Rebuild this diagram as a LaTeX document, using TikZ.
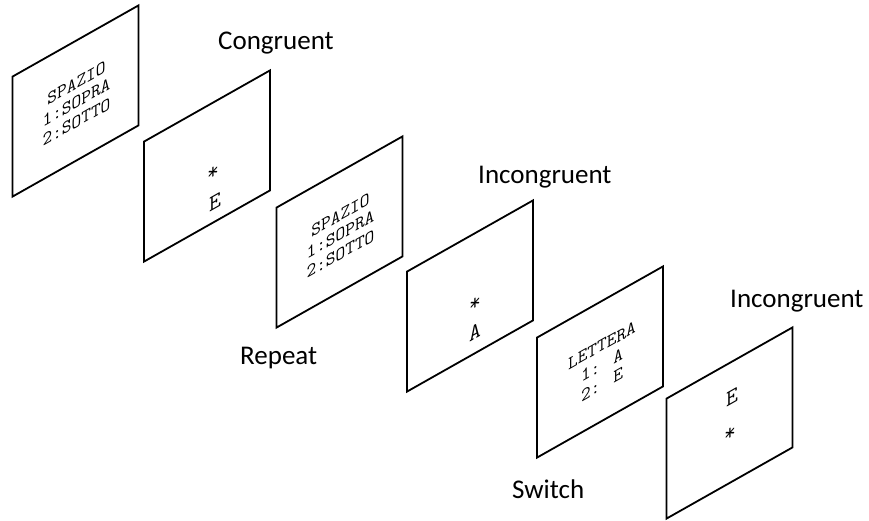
\documentclass[tikz,border=0pt]{standalone}
\usepackage{fontspec}
\setmainfont{Carlito}
\begin{document}
\begin{tikzpicture}[x=1pt,y=-1pt,
  panel/.style={draw, line width=1.8pt, minimum width=126pt, minimum height=120pt, inner sep=0pt, transform shape},
  cuetext/.style={font=\ttfamily\fontsize{18.8}{19.5}\selectfont, align=center, transform shape, inner sep=0pt},
  stim/.style={font=\ttfamily\fontsize{23}{26}\selectfont, transform shape, inner sep=0pt, anchor=base},
  lbl/.style={font=\fontsize{27}{32}\selectfont, anchor=base west, inner sep=0pt}]
\useasboundingbox (0,0) rectangle (869,520);

% panel 1: cue SPAZIO
\begin{scope}[shift={(75.5,101)}, yslant=0.565]
  \node[panel] (p1) at (0,0) {};
  \node[cuetext] (t1) at (1,2) {SPAZIO\\1:SOPRA\\2:SOTTO};
\end{scope}
% panel 2: congruent target
\begin{scope}[shift={(207,166)}, yslant=0.565]
  \node[panel] (p2) at (0,0) {};
  \node[stim] (s2) at (6,17) {*};
  \node[stim] (l2) at (8,47.5) {E};
\end{scope}
% panel 3: cue SPAZIO (repeat)
\begin{scope}[shift={(339.5,232)}, yslant=0.565]
  \node[panel] (p3) at (0,0) {};
  \node[cuetext] (t3) at (1,3) {SPAZIO\\1:SOPRA\\2:SOTTO};
\end{scope}
% panel 4: incongruent target
\begin{scope}[shift={(470,296)}, yslant=0.565]
  \node[panel] (p4) at (0,0) {};
  \node[stim] (s4) at (5,17.3) {*};
  \node[stim] (l4) at (5,46) {A};
\end{scope}
% panel 5: cue LETTERA (switch)
\begin{scope}[shift={(600,362)}, yslant=0.565]
  \node[panel] (p5) at (0,0) {};
  \node[cuetext] (t5) at (2,4) {LETTERA\\1: A\\2: E};
\end{scope}
% panel 6: incongruent target
\begin{scope}[shift={(729.5,423)}, yslant=0.565]
  \node[panel] (p6) at (0,0) {};
  \node[stim] (l6) at (2.5,-17.6) {E};
  \node[stim] (s6) at (0.5,17.3) {*};
\end{scope}

\node[lbl] (c1) at (218,49) {Congruent};
\node[lbl] (c2) at (478,183) {Incongruent};
\node[lbl] (c3) at (240,364) {Repeat};
\node[lbl] (c4) at (730,307) {Incongruent};
\node[lbl] (c5) at (512,498) {Switch};
\end{tikzpicture}
\end{document}
